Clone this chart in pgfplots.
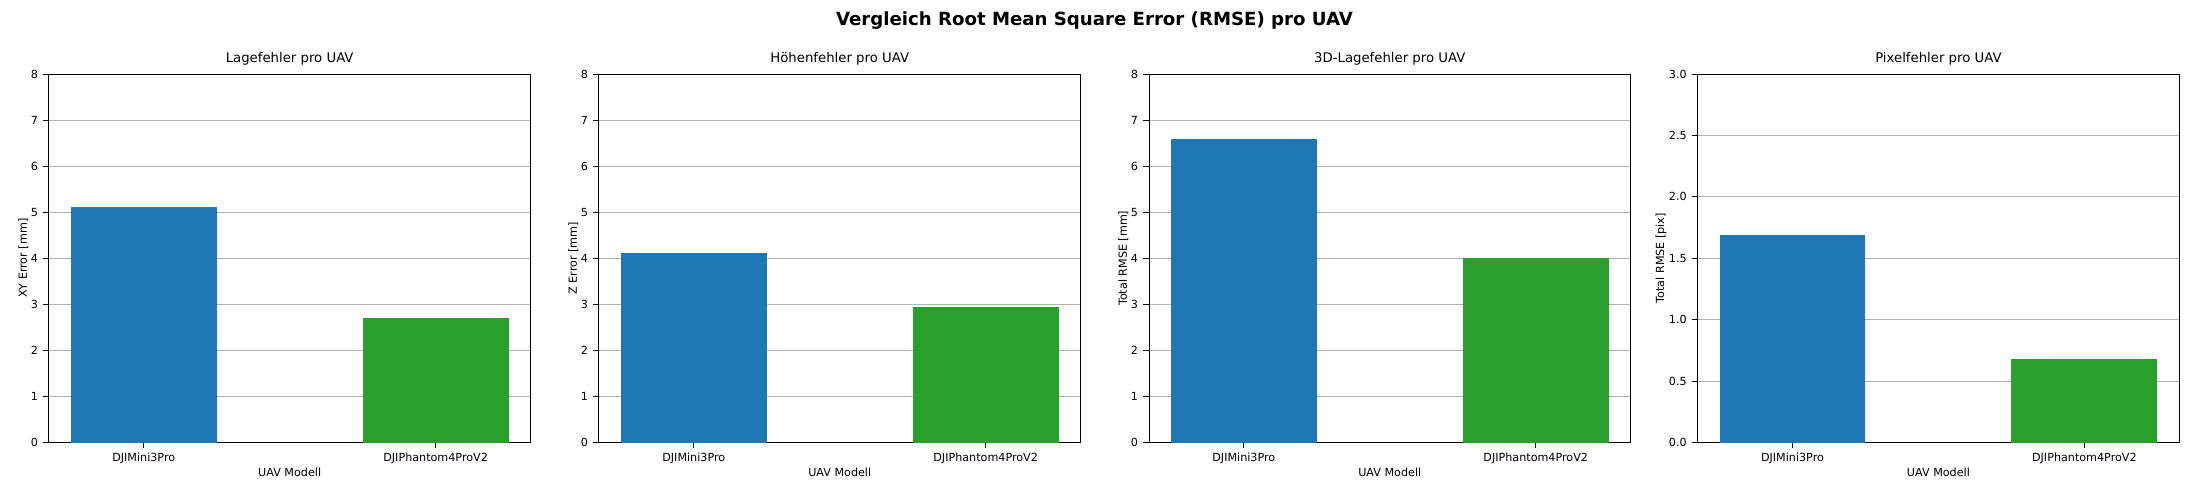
\documentclass[border=0pt]{standalone}
\usepackage{pgfplots}
\pgfplotsset{compat=1.18}
\usepackage{fontspec}
\setmainfont{DejaVu Sans}
\definecolor{mblue}{HTML}{1F77B4}
\definecolor{mgreen}{HTML}{2CA02C}
\pgfplotsset{
  myax/.style={
    scale only axis, width=345pt, height=264pt,
    anchor=south west,
    xmin=-0.325, xmax=1.325, ymin=0,
    xtick={0,1}, xticklabels={DJIMini3Pro,DJIPhantom4ProV2},
    xlabel={UAV Modell},
    ymajorgrids, grid style={gray!60, line width=0.6pt},
    tick align=outside, tick style={black, line width=0.6pt},
    xtick pos=bottom, ytick pos=left,
    axis line style={line width=0.6pt},
    ticklabel style={font=\fontsize{8}{10}\selectfont},
    label style={font=\fontsize{8}{10}\selectfont},
    title style={font=\fontsize{9.5}{11}\selectfont, yshift=-3pt},
    /pgf/number format/assume math mode=true,
    ybar, bar shift=0pt, bar width=0.5,
    xlabel style={yshift=4pt}, ylabel style={yshift=-5pt},
  }
}
\begin{document}
\begin{tikzpicture}
\useasboundingbox (0,0) rectangle (1568pt,355pt);
\node[font=\bfseries\fontsize{13}{15}\selectfont] at (784pt,340pt) {Vergleich Root Mean Square Error (RMSE) pro UAV};
\begin{axis}[myax, at={(35pt,38pt)}, ymax=8, ytick={0,1,...,8}, title={Lagefehler pro UAV}, ylabel={XY Error [mm]}]
\addplot[fill=mblue, draw=none] coordinates {(0,5.12)};
\addplot[fill=mgreen, draw=none] coordinates {(1,2.70)};
\end{axis}
\begin{axis}[myax, at={(429pt,38pt)}, ymax=8, ytick={0,1,...,8}, title={Höhenfehler pro UAV}, ylabel={Z Error [mm]}]
\addplot[fill=mblue, draw=none] coordinates {(0,4.12)};
\addplot[fill=mgreen, draw=none] coordinates {(1,2.94)};
\end{axis}
\begin{axis}[myax, at={(823pt,38pt)}, ymax=8, ytick={0,1,...,8}, title={3D-Lagefehler pro UAV}, ylabel={Total RMSE [mm]}]
\addplot[fill=mblue, draw=none] coordinates {(0,6.58)};
\addplot[fill=mgreen, draw=none] coordinates {(1,4.00)};
\end{axis}
\begin{axis}[myax, at={(1216pt,38pt)}, ymax=3, ytick={0,0.5,...,3}, title={Pixelfehler pro UAV}, ylabel={Total RMSE [pix]},
  yticklabel style={/pgf/number format/fixed, /pgf/number format/fixed zerofill, /pgf/number format/precision=1}]
\addplot[fill=mblue, draw=none] coordinates {(0,1.69)};
\addplot[fill=mgreen, draw=none] coordinates {(1,0.68)};
\end{axis}
\end{tikzpicture}
\end{document}
